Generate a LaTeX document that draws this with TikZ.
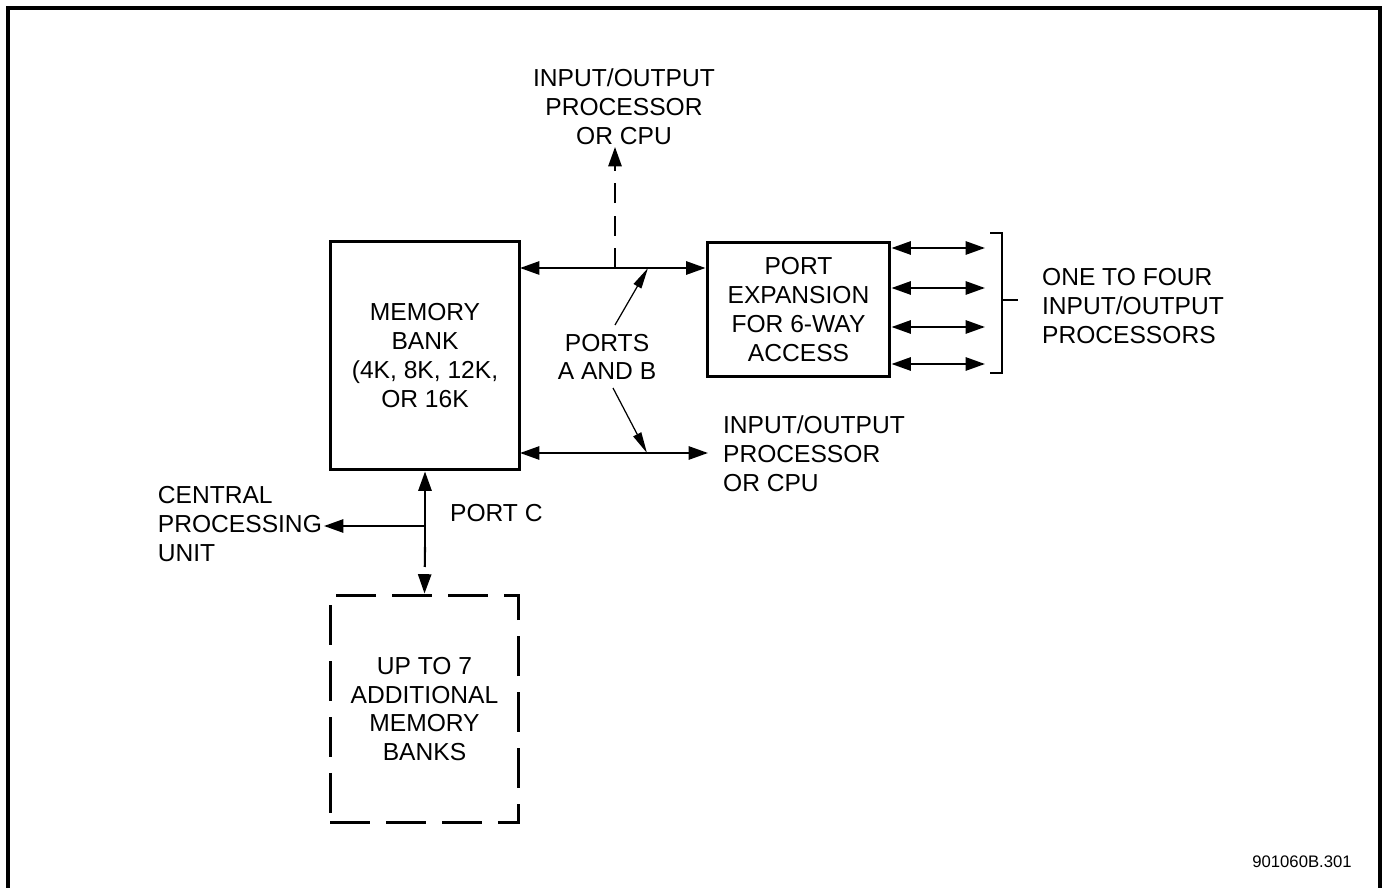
\documentclass[tikz,border=0pt]{standalone}
\usepackage{fontspec}
\setmainfont{Liberation Sans}
\usepackage{tikz}
\usetikzlibrary{arrows.meta,positioning,calc}

\tikzset{
  blk/.style={draw, line width=1.7pt, inner sep=0pt, align=center},
  lbl/.style={inner sep=1pt, align=center},
  bus/.style={line width=1.2pt, {Triangle[length=11pt,width=7.5pt]}-{Triangle[length=11pt,width=7.5pt]}},
  feed/.style={line width=1.2pt, -{Triangle[length=11pt,width=7.5pt]}},
  pointer/.style={line width=0.7pt, -{Triangle[length=12pt,width=5pt]}},
  longdash/.style={dash pattern=on 0.8cm off 0.32cm},
  shortdash/.style={dash pattern=on 0.4cm off 0.25cm}
}

\begin{document}
\begin{tikzpicture}[x=0.02cm, y=-0.02cm,
  every node/.style={font=\fontsize{14}{16.4}\selectfont}]

%% ── Page and frame (1 unit = 1 px of the sheet) ─────────────────────────────
\useasboundingbox (0,0) rectangle (1383,888);
\draw[line width=1.8pt] (8,888) -- (8,8) -- (1380,8) -- (1380,888);

%% ── Blocks ──────────────────────────────────────────────────────────────────
\node[blk, minimum width=3.8cm, minimum height=4.58cm] (mem) at (425,355.5)
  {MEMORY\\BANK\\(4K, 8K, 12K,\\OR 16K};
\node[blk, minimum width=3.66cm, minimum height=2.7cm] (expand) at (798.5,309.5)
  {PORT\\EXPANSION\\FOR 6-WAY\\ACCESS};
\node[blk, longdash, minimum width=3.78cm, minimum height=4.56cm] (extra) at (424.5,709)
  {UP TO 7\\ADDITIONAL\\MEMORY\\BANKS};

%% ── Labels ──────────────────────────────────────────────────────────────────
\node[lbl] (ioTop) at (624,107) {INPUT/OUTPUT\\PROCESSOR\\OR CPU};
\node[lbl, align=left, anchor=west] (ioLow) at (721,454) {INPUT/OUTPUT\\PROCESSOR\\OR CPU};
\node[lbl] (portsAB) at (607,357) {PORTS\\A AND B};
\node[lbl, anchor=west] (portC) at (448,513) {PORT C};
\node[lbl, align=left, anchor=east] (cpu) at (324,524) {CENTRAL\\PROCESSING\\UNIT};
\node[lbl, align=left, anchor=west] (iops) at (1040,306) {ONE TO FOUR\\INPUT/OUTPUT\\PROCESSORS};
\node[lbl, font=\fontsize{9.5}{11}\selectfont] (drawno) at (1302,862) {901060B.301};

%% ── Ports A and B ───────────────────────────────────────────────────────────
\coordinate (busA) at (520,268);
\coordinate (busB) at (520,453);
\coordinate (tapA) at (615,268);
\coordinate (hitA) at (648,268);
\coordinate (hitB) at (647,453);
\coordinate (fromA) at (615,325);
\coordinate (fromB) at (613,388);

\draw[bus] (busA) -- (busA -| expand.west);
\draw[bus] (busB) -- (708,453);
\draw[feed, shortdash] (tapA) -- (tapA |- ioTop.south);
\draw[pointer] (fromA) -- (hitA);
\draw[pointer] (fromB) -- (hitB);

%% ── Expansion outputs ───────────────────────────────────────────────────────
\foreach \yy in {248,288,327,364}{
  \coordinate (out\yy) at (985,\yy);
  \draw[bus] (expand.east |- out\yy) -- (out\yy);
}
\coordinate (tick) at (1018,300);
\draw[line width=1.2pt] (990,233) -- (1002,233) -- (1002,373) -- (990,373);
\draw[line width=1.2pt] (1002,300) -- (tick);

%% ── Port C ──────────────────────────────────────────────────────────────────
\coordinate (pcj) at (425,526);
\coordinate (pcs) at (425,547);
\draw[line width=1.2pt, {Triangle[length=11pt,width=7.5pt]}-] (mem.south) -- (pcs);
\draw[feed, shortdash] (pcs) -- (extra.north);
\draw[feed] (pcj) -- (pcj -| cpu.east);

\end{tikzpicture}
\end{document}
